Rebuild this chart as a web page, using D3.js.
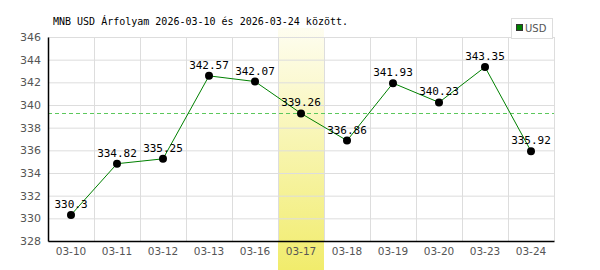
<!DOCTYPE html>
<html><head><meta charset="utf-8">
<script src="https://cdn.jsdelivr.net/npm/d3@7/dist/d3.min.js"></script>
<style>body{margin:0;background:#fff}svg{display:block}</style>
</head><body>
<script>
const categories = ["03-10","03-11","03-12","03-13","03-16","03-17","03-18","03-19","03-20","03-23","03-24"];
const values = [330.3,334.82,335.25,342.57,342.07,339.26,336.86,341.93,340.23,343.35,335.92];
const valueLabels = ["330.3","334.82","335.25","342.57","342.07","339.26","336.86","341.93","340.23","343.35","335.92"];
const yTicks = [328,330,332,334,336,338,340,342,344,346];
const highlight = "03-17";
const refValue = 339.26;
const title = "MNB USD Árfolyam 2026-03-10 és 2026-03-24 között.";
const seriesName = "USD";

const W = 600, H = 270;
const m = {l:48, r:46, t:37, b:29};
const svg = d3.select("body").append("svg").attr("width", W).attr("height", H);
const x = d3.scaleBand().domain(categories).range([m.l, W - m.r]);
const y = d3.scaleLinear().domain([328,346]).range([H - m.b, m.t]);

const defs = svg.append("defs");
const g = defs.append("linearGradient").attr("id","hl").attr("x1",0).attr("y1",0).attr("x2",0).attr("y2",1);
g.append("stop").attr("offset","0%").attr("stop-color","#fefdf0");
g.append("stop").attr("offset","100%").attr("stop-color","#f1ec6c");
svg.append("rect").attr("x", x(highlight)).attr("y", 28).attr("width", x.bandwidth()).attr("height", H - 28).attr("fill","url(#hl)");

// grid
svg.append("g").selectAll("line").data(yTicks).join("line")
  .attr("x1", m.l).attr("x2", W - m.r).attr("y1", d=>y(d)+0.5).attr("y2", d=>y(d)+0.5)
  .attr("stroke","#dddddd");
const vb = categories.map(c=>x(c)).concat([x(categories[categories.length-1]) + x.bandwidth()]);
svg.append("g").selectAll("line").data(vb.slice(1)).join("line")
  .attr("x1", d=>Math.round(d)+0.5).attr("x2", d=>Math.round(d)+0.5).attr("y1", m.t).attr("y2", H - m.b)
  .attr("stroke","#dddddd");

// ref line
svg.append("line").attr("x1", m.l).attr("x2", W - m.r).attr("y1", Math.round(y(refValue))+0.5).attr("y2", Math.round(y(refValue))+0.5)
  .attr("stroke","#5cc85c").attr("stroke-dasharray","4,3");

// axes
const yAxis = svg.append("g").attr("transform",`translate(${m.l},0)`)
  .call(d3.axisLeft(y).tickValues(yTicks).tickSize(0).tickPadding(7));
yAxis.select(".domain").attr("stroke","#000").attr("stroke-width",1.5);
yAxis.selectAll("text").attr("font-family","DejaVu Sans").attr("font-size",11).attr("fill","#555");
const xAxis = svg.append("g").attr("transform",`translate(0,${H - m.b})`)
  .call(d3.axisBottom(x).tickSize(0).tickPadding(7));
xAxis.select(".domain").attr("stroke","#000").attr("stroke-width",1.5);
xAxis.selectAll("text").attr("font-family","DejaVu Sans").attr("font-size",10.5).attr("fill","#555");

// line
const cx = d => x(d) + x.bandwidth()/2;
svg.append("path").datum(values)
  .attr("d", d3.line().x((d,i)=>cx(categories[i])).y(d=>y(d)))
  .attr("fill","none").attr("stroke","#008000").attr("stroke-width",1);
svg.append("g").selectAll("circle").data(values).join("circle")
  .attr("cx",(d,i)=>cx(categories[i])).attr("cy",d=>y(d)).attr("r",4).attr("fill","#000");
svg.append("g").selectAll("text").data(values).join("text")
  .attr("x",(d,i)=>cx(categories[i])).attr("y",d=>y(d)-7)
  .attr("text-anchor","middle").attr("font-family","DejaVu Sans Mono").attr("font-size",11).attr("fill","#000")
  .text((d,i)=>valueLabels[i]);

// title
svg.append("text").attr("x",53).attr("y",25).attr("font-family","DejaVu Sans Mono").attr("font-size",10)
  .attr("fill","#000").text(title);

// legend
const lg = svg.append("g");
lg.append("rect").attr("x",511.5).attr("y",18.5).attr("width",41).attr("height",20).attr("fill","#fff").attr("stroke","#dddddd");
lg.append("rect").attr("x",516.5).attr("y",24.5).attr("width",6).attr("height",6).attr("fill","#008000").attr("stroke","#333");
lg.append("text").attr("x",525).attr("y",32).attr("font-family","DejaVu Sans").attr("font-size",10).attr("fill","#555").text(seriesName);
</script>
</body></html>
